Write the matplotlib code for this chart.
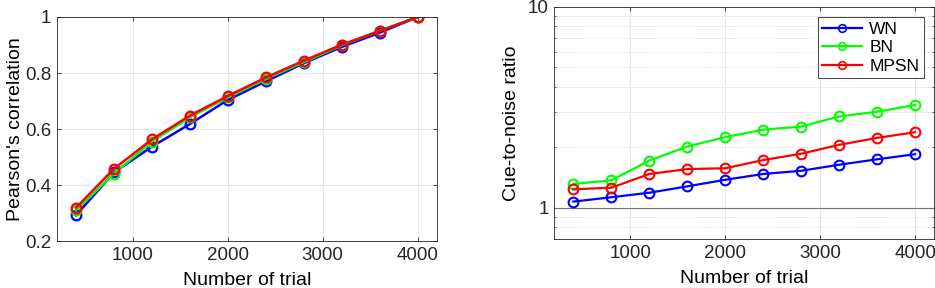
import numpy as np
import matplotlib
matplotlib.use('Agg')
import matplotlib.pyplot as plt
from matplotlib.ticker import FixedLocator, NullFormatter

plt.rcParams['font.family'] = ['Liberation Sans', 'DejaVu Sans']

trials = [400, 800, 1200, 1600, 2000, 2400, 2800, 3200, 3600, 4000]

# Pearson's correlation
corr_wn = [0.292, 0.445, 0.537, 0.618, 0.704, 0.770, 0.835, 0.893, 0.944, 1.0]
corr_bn = [0.310, 0.441, 0.555, 0.642, 0.713, 0.779, 0.839, 0.899, 0.951, 1.0]
corr_mpsn = [0.319, 0.458, 0.563, 0.648, 0.718, 0.784, 0.844, 0.901, 0.950, 1.0]

# cue-to-noise ratio
cnr_wn = [1.075, 1.13, 1.19, 1.28, 1.38, 1.475, 1.53, 1.64, 1.745, 1.85]
cnr_bn = [1.316, 1.372, 1.72, 2.02, 2.25, 2.45, 2.54, 2.85, 3.01, 3.25]
cnr_mpsn = [1.238, 1.26, 1.475, 1.56, 1.575, 1.73, 1.86, 2.06, 2.23, 2.38]

names = ['WN', 'BN', 'MPSN']
colors = ['#0000ff', '#00ff00', '#ff0000']

fig = plt.figure(figsize=(9.35, 2.88), dpi=100)
ax1 = fig.add_axes([0.061, 0.163, 0.406, 0.778])
ax2 = fig.add_axes([0.593, 0.170, 0.406, 0.806])


def style(ax):
    ax.tick_params(direction='in', top=True, right=True, labelsize=13.5,
                   length=3, width=0.6, colors='#262626', pad=4)
    for s in ax.spines.values():
        s.set_linewidth(0.6)
        s.set_color('#262626')
    ax.set_xlim(200, 4200)
    ax.set_xticks([1000, 2000, 3000, 4000])
    ax.set_xlabel('Number of trial', fontsize=14, labelpad=6)
    ax.grid(True, which='major', axis='x', color='#e6e6e6', lw=0.8)


# left panel
for y, c in zip([corr_wn, corr_bn, corr_mpsn], colors):
    ax1.plot(trials, y, '-o', color=c, lw=1.8, ms=7, mfc='none', mew=1.6)
style(ax1)
ax1.set_ylim(0.2, 1)
ax1.set_yticks([0.2, 0.4, 0.6, 0.8, 1])
ax1.set_yticklabels(['0.2', '0.4', '0.6', '0.8', '1'])
ax1.grid(True, axis='y', color='#e6e6e6', lw=0.8)
ax1.set_ylabel("Pearson's correlation", fontsize=14, labelpad=1)
ax1.set_axisbelow(True)

# right panel
for y, c, n in zip([cnr_wn, cnr_bn, cnr_mpsn], colors, names):
    ax2.plot(trials, y, '-o', color=c, lw=1.6, ms=7, mfc='none',
             mew=1.5, label=n)
ax2.set_yscale('log')
style(ax2)
ax2.set_ylim(0.7, 10)
ax2.yaxis.set_major_locator(FixedLocator([1, 10]))
ax2.set_yticklabels(['1', '10'])
minors = [0.7, 0.8, 0.9, 2, 3, 4, 5, 6, 7, 8, 9]
ax2.yaxis.set_minor_locator(FixedLocator(minors))
ax2.yaxis.set_minor_formatter(NullFormatter())
ax2.tick_params(which='minor', direction='in', right=True, length=1.5,
                width=0.5, colors='#262626')
ax2.grid(True, which='minor', axis='y', color='#d0d0d0', lw=0.7, ls=':')
ax2.axhline(1, color='#707070', lw=0.8, zorder=1)
ax2.set_ylabel('Cue-to-noise ratio', fontsize=14, labelpad=6)
ax2.set_axisbelow(True)

leg = ax2.legend(loc='upper right', fontsize=12.5, handlelength=2.3,
                 borderaxespad=0.6, fancybox=False, framealpha=1,
                 edgecolor='#262626', handletextpad=0.4, labelspacing=0.2,
                 borderpad=0.25)
leg.get_frame().set_linewidth(0.6)
for h in leg.legend_handles:
    h.set_markersize(5.5)
    h.set_markeredgewidth(1.2)

fig.savefig('out.png', dpi=100)
